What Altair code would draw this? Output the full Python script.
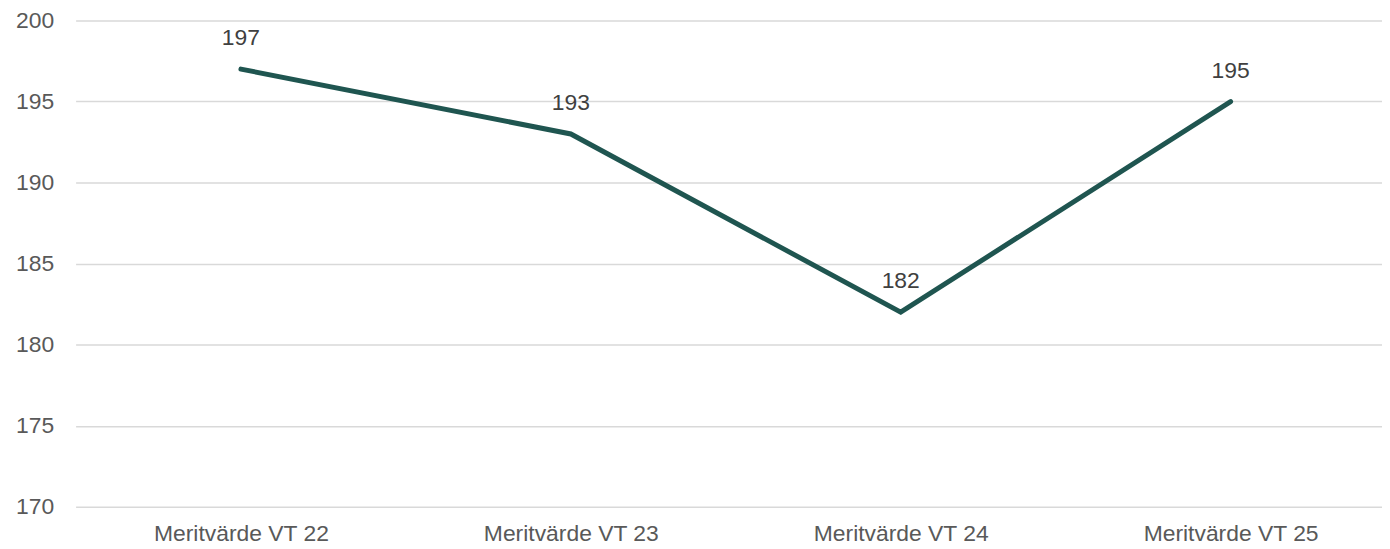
import altair as alt
import pandas as pd

categories = ["Meritvärde VT 22", "Meritvärde VT 23", "Meritvärde VT 24", "Meritvärde VT 25"]
values = [197, 193, 182, 195]

df = pd.DataFrame({"cat": categories, "val": values})

x = alt.X("cat:N", sort=categories, title=None,
          scale=alt.Scale(type="point", padding=0.48, align=0.522, round=False),
          axis=alt.Axis(labelAngle=0, domain=False, ticks=False, labelFont="Liberation Sans",
                        labelFontSize=23, labelColor="#595959", labelPadding=16, grid=False))
y = alt.Y("val:Q", title=None,
          scale=alt.Scale(domain=[170, 200], nice=False, zero=False),
          axis=alt.Axis(values=[170, 175, 180, 185, 190, 195, 200], domain=False, ticks=False,
                        labelFont="Liberation Sans", labelFontSize=23, labelColor="#595959",
                        labelPadding=22, grid=True, gridColor="#d9d9d9", gridWidth=1.5))

base = alt.Chart(df)
line = base.mark_line(color="#1F5550", strokeWidth=5, strokeCap="round", strokeJoin="miter").encode(x=x, y=y)
text = base.mark_text(dy=-31, font="Liberation Sans", fontSize=23, color="#404040", baseline="middle").encode(
    x=alt.X("cat:N", sort=categories), y="val:Q", text="val:Q")

chart = (line + text).properties(
    width=1314, height=489,
    autosize=alt.AutoSizeParams(type="none"),
    padding={"left": 68, "top": 11, "right": 0, "bottom": 41},
    background="white",
).configure_view(stroke=None)

chart.save("out.html", embed_options={"renderer": "svg", "actions": False})
